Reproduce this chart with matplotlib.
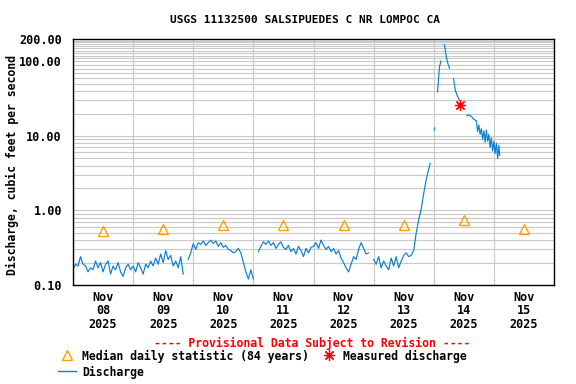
import numpy as np
import matplotlib
matplotlib.use('Agg')
import matplotlib.pyplot as plt
from matplotlib.ticker import NullFormatter

nan = np.nan

# hourly discharge (cfs) from Nov 08 00:00
base_q = [
    # Nov 08
    0.16, 0.19, 0.18, 0.24, 0.19, 0.18, 0.15, 0.17, 0.16, 0.21, 0.17, 0.20,
    0.15, 0.19, 0.21, 0.14, 0.18, 0.16, 0.20, 0.15, 0.13, 0.17, 0.19, 0.16,
    # Nov 09
    0.18, 0.15, 0.20, 0.17, 0.14, 0.19, 0.17, 0.21, 0.18, 0.23, 0.19, 0.26,
    0.20, 0.29, 0.22, 0.25, 0.18, 0.21, 0.17, 0.24, 0.14, nan, 0.22, 0.27,
    # Nov 10
    0.36, 0.30, 0.37, 0.35, 0.39, 0.34, 0.37, 0.40, 0.36, 0.39, 0.33, 0.37,
    0.32, 0.34, 0.30, 0.29, 0.27, 0.28, 0.31, 0.27, 0.20, 0.15, 0.12, 0.16,
    # Nov 11
    0.12, nan, 0.28, 0.33, 0.38, 0.35, 0.39, 0.34, 0.37, 0.31, 0.35, 0.38,
    0.32, 0.30, 0.34, 0.28, 0.31, 0.26, 0.33, 0.29, 0.24, 0.31, 0.27, 0.32,
    # Nov 12
    0.33, 0.37, 0.31, 0.40, 0.34, 0.30, 0.33, 0.28, 0.31, 0.26, 0.29, 0.23,
    0.20, 0.17, 0.15, 0.19, 0.24, 0.22, 0.30, 0.37, 0.31, 0.26, 0.27, nan,
    # Nov 13 (to 15:00)
    0.22, 0.19, 0.24, 0.17, 0.21, 0.18, 0.16, 0.23, 0.18, 0.24, 0.17, 0.21,
    0.25, 0.27, 0.24, 0.25,
]

# storm event, hours from Nov 08 00:00
storm_hours = [136, 137, 138, 139, 140, 141, 142, 142.6, 143.5, 144.2, 144.4,
               145.0, 145.5, 146.3, 146.85, 147.5, 148.3, 149.0, 149.6, 150.3,
               151.0, 151.9, 152.6, 153.5, 154.3, 155.5, 157.2, 158.1, 159.2,
               159.7, 160.5, 161.0, 161.5, 162.0, 162.5, 163.0, 163.5, 164.0,
               164.5, 165.0, 165.5, 166.0, 166.5, 167.0, 167.5, 168.0, 168.5,
               169.0, 169.5, 170.0, 170.3]
storm_q = [0.29, 0.5, 0.75, 1.05, 1.7, 2.6, 3.6, 4.3, nan, 12.0, 12.8,
           nan, 39, 85, 101, nan, 166, 116, 95, 81,
           nan, 59, 41, 34, 30, nan, 18.7, 19.2, 18,
           17, 16.4, 16.0, 11.5, 14.0, 10.5, 12.5, 9.0, 11.8,
           8.2, 12.0, 8.5, 10.5, 7.0, 9.5, 6.3, 8.5, 5.8,
           8.0, 5.0, 7.5, 5.5]

median_hours = [12, 36, 60, 84, 108, 132, 156, 180]
median_q = [0.53, 0.56, 0.63, 0.63, 0.63, 0.63, 0.74, 0.56]

measured_hours = [154.6]
measured_q = [26]

day_labels = ['Nov\n08\n2025', 'Nov\n09\n2025', 'Nov\n10\n2025', 'Nov\n11\n2025',
              'Nov\n12\n2025', 'Nov\n13\n2025', 'Nov\n14\n2025', 'Nov\n15\n2025']
ytick_vals = [0.1, 1, 10, 100, 200]
ytick_labels = ['0.10', '1.00', '10.00', '100.00', '200.00']

plt.rcParams['font.family'] = 'DejaVu Sans Mono'
plt.rcParams['font.weight'] = 'bold'

hours = np.concatenate([np.arange(len(base_q)), storm_hours])
q = np.concatenate([base_q, storm_q])

fig = plt.figure(figsize=(5.76, 3.84), dpi=100)
ax = fig.add_axes([73/576, 1-285/384, 481/576, 246/384])

grid_c = '#c8c8c8'
ax.set_yscale('log')
ax.set_ylim(0.1, 200)
ax.set_xlim(0, 192)

minor = [m * 10.0**e for e in (-1, 0, 1) for m in range(2, 10)] + [110 + 10*i for i in range(9)]
ax.set_yticks(ytick_vals)
ax.set_yticklabels(ytick_labels)
ax.set_yticks(minor, minor=True)
ax.yaxis.set_minor_formatter(NullFormatter())

ax.set_xticks(np.arange(0, 193, 24))
ax.set_xticklabels([])
ax.set_xticks(median_hours, minor=True)
ax.set_xticklabels(day_labels, minor=True, linespacing=1.05)

ax.grid(True, which='major', axis='x', color=grid_c, lw=0.8)
ax.grid(True, which='both', axis='y', color=grid_c, lw=0.8)
ax.tick_params(axis='both', which='both', length=0)
ax.tick_params(axis='y', labelsize=8.5, pad=8)
ax.tick_params(axis='x', which='minor', labelsize=8.5, pad=4)
for s in ax.spines.values():
    s.set_linewidth(1.0)
ax.set_axisbelow(True)

ax.plot(hours, q, color='#0a80d0', lw=0.85)
ax.plot(median_hours, median_q, ls='none', marker='^', ms=7, mfc='none',
        mec='#ffa000', mew=1.0)
ax.plot(measured_hours, measured_q, ls='none', marker=(8, 2, 0), ms=8,
        mec='red', mew=0.9)

fig.text(305/576, 1-20/384, 'USGS 11132500 SALSIPUEDES C NR LOMPOC CA',
         ha='center', va='center', fontsize=8)
fig.text(12/576, 1-165/384, 'Discharge, cubic feet per second', rotation=90,
         ha='center', va='center', fontsize=8.3)

# legend area in pixel coordinates
lax = fig.add_axes([0, 0, 1, 1])
lax.set_xlim(0, 576)
lax.set_ylim(384, 0)
lax.axis('off')
lax.text(312, 343, '---- Provisional Data Subject to Revision ----', color='red',
         ha='center', va='center', fontsize=8.3)
lax.plot([67], [355], marker='^', ms=7, mfc='none', mec='#ffa000', mew=1.0)
lax.text(82, 356, 'Median daily statistic (84 years)', ha='left', va='center',
         fontsize=8.3)
lax.plot([329], [355], marker=(8, 2, 0), ms=8, mec='red', mew=0.9)
lax.text(343, 356, 'Measured discharge', ha='left', va='center', fontsize=8.3)
lax.plot([58, 76], [371, 371], color='#0a80d0', lw=1)
lax.text(82, 372, 'Discharge', ha='left', va='center', fontsize=8.3)

fig.savefig('out.png', dpi=100)
